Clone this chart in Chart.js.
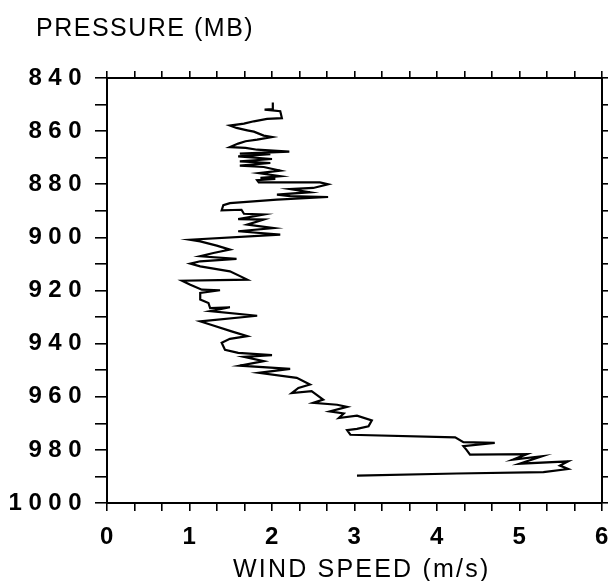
<!DOCTYPE html>
<html>
<head>
<meta charset="utf-8">
<title>Wind speed profile</title>
<script src="https://cdn.jsdelivr.net/npm/chart.js@4.4.1/dist/chart.umd.min.js"></script>
<style>
  html, body { margin: 0; padding: 0; background: #fff; }
  #wrap { width: 611px; height: 581px; }
</style>
</head>
<body>
<div id="wrap"><canvas id="windChart" width="611" height="581"></canvas></div>
<script>
// profile, top (low pressure) to bottom
const pressure = [
  849.2, 851.7, 851.9, 852.5, 855.1, 855.4, 856.3, 857.2, 857.9, 858.8,
  859.7, 860.2, 861.7, 862.2, 863.2, 863.8, 864.7, 866.0, 866.3, 867.0,
  867.7, 868.5, 868.7, 869.5, 870.5, 871.4, 872.0, 873.0, 873.5, 874.9,
  875.8, 877.0, 877.6, 878.0, 878.5, 879.3, 879.3, 880.0, 881.4, 881.8,
  883.0, 883.9, 884.5, 884.8, 885.8, 887.1, 887.9, 889.8, 889.6, 891.1,
  891.4, 893.1, 893.3, 895.2, 896.5, 897.7, 899.0, 900.9, 901.5, 903.1,
  904.6, 905.9, 907.1, 908.1, 909.0, 909.9, 910.9, 912.8, 915.9, 916.3,
  917.8, 919.7, 919.9, 920.9, 923.4, 924.7, 926.6, 926.3, 927.8, 929.5,
  931.6, 932.8, 935.4, 937.2, 938.2, 939.7, 942.3, 943.5, 944.3, 945.0,
  946.6, 948.3, 949.5, 951.0, 952.9, 955.4, 956.7, 958.6, 957.9, 961.1,
  962.3, 963.0, 963.8, 965.5, 966.3, 968.0, 967.1, 968.9, 971.1, 972.1,
  972.6, 974.3, 975.3, 977.1, 977.4, 978.6, 980.1, 981.8, 981.6, 983.7,
  982.4, 985.2, 984.3, 985.9, 987.2, 988.4, 988.9, 989.7
]
const windSpeed = [
  2.01, 2.01, 1.91, 2.10, 2.12, 1.94, 1.78, 1.66, 1.49, 1.57,
  1.70, 1.78, 1.90, 2.00, 1.82, 1.68, 1.59, 1.49, 1.68, 1.82,
  2.21, 1.61, 1.98, 1.59, 2.00, 1.61, 1.98, 1.61, 1.90, 2.10,
  1.84, 2.10, 1.86, 2.04, 1.82, 1.84, 2.58, 2.68, 2.50, 2.22,
  2.46, 2.06, 2.22, 2.68, 2.06, 1.49, 1.41, 1.39, 1.63, 1.66,
  1.90, 1.59, 1.90, 1.70, 2.02, 1.59, 2.10, 1.01, 1.13, 1.33,
  1.49, 1.29, 1.13, 1.57, 1.13, 1.01, 1.13, 1.49, 1.70, 0.91,
  1.01, 1.15, 1.37, 1.13, 1.13, 1.23, 1.25, 1.49, 1.25, 1.82,
  1.13, 1.25, 1.51, 1.70, 1.49, 1.39, 1.43, 1.59, 2.00, 1.66,
  1.90, 1.61, 2.22, 1.84, 2.30, 2.46, 2.32, 2.24, 2.48, 2.62,
  2.50, 2.79, 2.91, 2.70, 2.87, 2.81, 3.03, 3.21, 3.17, 3.03,
  2.91, 2.95, 4.22, 4.32, 4.70, 4.32, 4.36, 4.40, 5.09, 4.92,
  5.27, 5.00, 5.59, 5.49, 5.59, 5.29, 4.24, 3.03
]

const xLabels = [0, 1, 2, 3, 4, 5, 6]
const yTicks = [840, 850, 860, 870, 880, 890, 900, 910, 920, 930, 940, 950, 960, 970, 980, 990, 1000]
const yLabels = [840, 860, 880, 900, 920, 940, 960, 980, 1000]

// minor ticks every 1/3 m/s
const xTicks = []
for (let i = 0; i <= 18; i++) xTicks.push(i / 3)

const fontFamily = '"Liberation Sans", Arial, Helvetica, sans-serif'

function fixSize(prop, size) {
  return (scale) => {
    scale[prop] = size
    scale.paddingLeft = scale.paddingRight = scale.paddingTop = scale.paddingBottom = 0
  }
}

function axisGrid(len) {
  return { display: true, drawOnChartArea: false, drawTicks: true, tickLength: len, color: '#000', lineWidth: 1.6 }
}
const axisBorder = { display: true, color: '#000', width: 2 }

const textPlugin = {
  id: 'textPlugin',
  beforeDraw(chart) {
    // spaced-out digits on the pressure labels
    chart.ctx.letterSpacing = '6.5px'
  },
  afterDraw(chart) {
    const ctx = chart.ctx
    ctx.save()
    ctx.fillStyle = '#000'
    ctx.font = '25px ' + fontFamily
    ctx.textAlign = 'left'
    ctx.textBaseline = 'alphabetic'
    ctx.letterSpacing = '1.5px'
    ctx.fillText('PRESSURE (MB)', 36, 36)
    ctx.letterSpacing = '2.2px'
    ctx.fillText('WIND SPEED (m/s)', 233, 577)
    ctx.restore()
    ctx.letterSpacing = '0px'
  }
}

const ctx = document.getElementById('windChart')
const windChart = new Chart(ctx, {
  type: 'scatter',
  data: {
    datasets: [{
      label: 'Wind speed',
      data: pressure.map((p, i) => ({ x: windSpeed[i], y: p })),
      showLine: true,
      borderColor: '#000',
      borderWidth: 2.2,
      pointRadius: 0,
      tension: 0,
      fill: false
    }]
  },
  options: {
    responsive: false,
    animation: false,
    devicePixelRatio: 1,
    layout: { padding: { top: 68, right: 1, left: 0, bottom: 0 } },
    plugins: {
      legend: { display: false },
      tooltip: { enabled: false },
      title: { display: false }
    },
    scales: {
      x: {
        type: 'linear',
        position: 'bottom',
        min: 0, max: 6,
        afterBuildTicks: (axis) => { axis.ticks = xTicks.map(v => ({ value: v })) },
        afterFit: fixSize('height', 78),
        grid: axisGrid(8),
        border: axisBorder,
        ticks: {
          autoSkip: false,
          maxRotation: 0,
          padding: 12,
          labelOffset: 3,
          color: '#000',
          font: { family: fontFamily, size: 24, weight: 'bold' },
          callback: (v) => xLabels.includes(v) ? String(v) : ''
        }
      },
      x2: {
        type: 'linear',
        position: 'top',
        min: 0, max: 6,
        afterBuildTicks: (axis) => { axis.ticks = xTicks.map(v => ({ value: v })) },
        afterFit: fixSize('height', 10),
        grid: axisGrid(7),
        border: axisBorder,
        ticks: { display: false }
      },
      y: {
        type: 'linear',
        position: 'left',
        reverse: true,
        min: 840, max: 1000,
        afterBuildTicks: (axis) => { axis.ticks = yTicks.map(v => ({ value: v })) },
        afterFit: fixSize('width', 107),
        grid: axisGrid(12),
        border: axisBorder,
        ticks: {
          autoSkip: false,
          padding: 7,
          color: '#000',
          font: { family: fontFamily, size: 24, weight: 'bold' },
          callback: (v) => yLabels.includes(v) ? String(v) : ''
        }
      },
      y2: {
        type: 'linear',
        position: 'right',
        reverse: true,
        min: 840, max: 1000,
        afterBuildTicks: (axis) => { axis.ticks = yTicks.map(v => ({ value: v })) },
        afterFit: fixSize('width', 8),
        grid: axisGrid(6),
        border: axisBorder,
        ticks: { display: false }
      }
    }
  },
  plugins: [textPlugin]
})
</script>
</body>
</html>
